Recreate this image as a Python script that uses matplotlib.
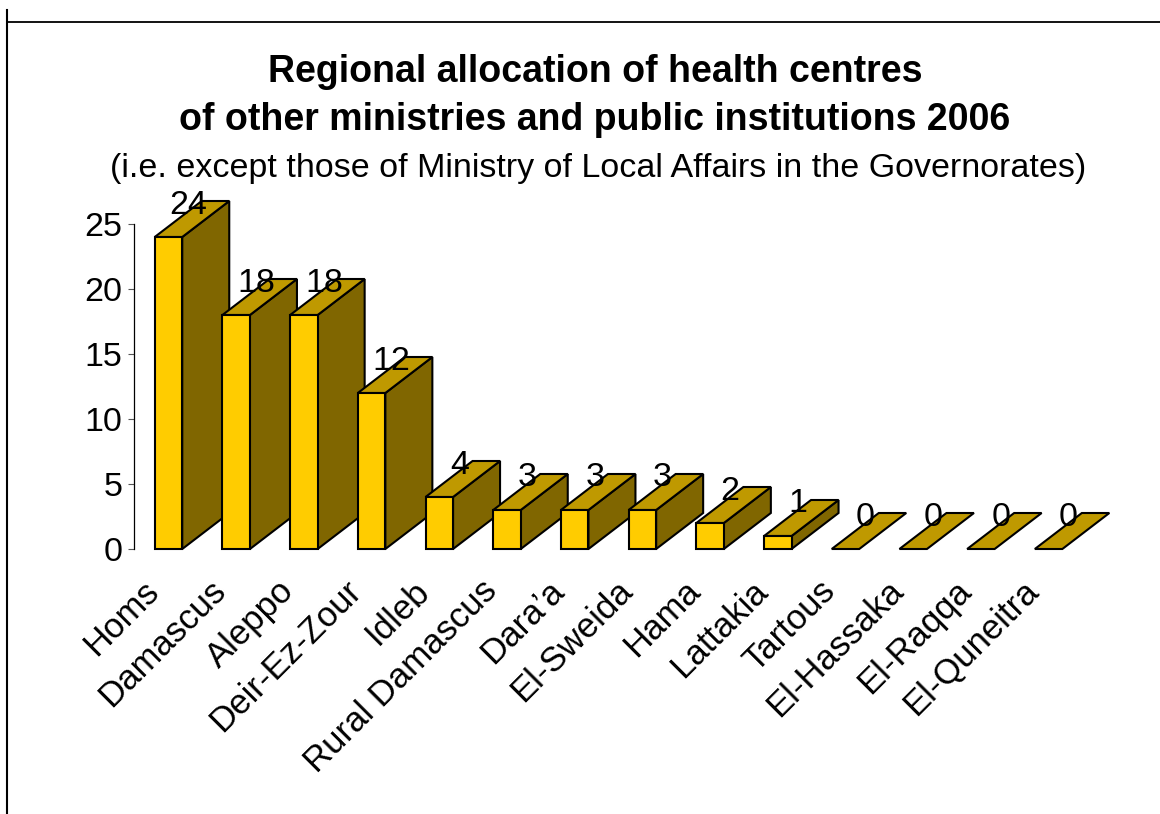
import matplotlib
matplotlib.use("Agg")
import matplotlib.pyplot as plt
from matplotlib.patches import Polygon
from matplotlib.lines import Line2D

plt.rcParams['font.family'] = ['Liberation Sans', 'DejaVu Sans']

# Data
governorates = ["Homs", "Damascus", "Aleppo", "Deir-Ez-Zour", "Idleb",
                "Rural Damascus", "Dara\u2019a", "El-Sweida", "Hama", "Lattakia",
                "Tartous", "El-Hassaka", "El-Raqqa", "El-Quneitra"]
centres = [24, 18, 18, 12, 4, 3, 3, 3, 2, 1, 0, 0, 0, 0]
y_ticks = [0, 5, 10, 15, 20, 25]

title_line1 = "Regional allocation of health centres"
title_line2 = "of other ministries and public institutions 2006"
subtitle = "(i.e. except those of Ministry of Local Affairs in the Governorates)"

W, H, DPI = 1160, 814, 100
fig = plt.figure(figsize=(W / DPI, H / DPI), dpi=DPI)

# Axes placed in pixel units
ax_left, ax_right = 134, 1110
ax_top, ax_bottom = 224, 549
ax = fig.add_axes([ax_left / W, (H - ax_bottom) / H,
                   (ax_right - ax_left) / W, (ax_bottom - ax_top) / H])

px_per_x = 67.7
px_per_y = (ax_bottom - ax_top) / 25.0
first_centre_px = 168.5
x0 = (ax_left - first_centre_px) / px_per_x
ax.set_xlim(x0, x0 + (ax_right - ax_left) / px_per_x)
ax.set_ylim(0, 25)

half_w = 13.75 / px_per_x          # half width of the front face
depth_x = 47 / px_per_x            # oblique depth offset
depth_y = 36 / px_per_y

front_col = "#FFCC00"
side_col = "#806600"
top_col = "#BF9900"
edge = dict(edgecolor="black", linewidth=1.5, joinstyle="miter", clip_on=False)

for i, v in enumerate(centres):
    xl, xr = i - half_w, i + half_w
    z = 2 + i
    if v > 0:
        side = Polygon([(xr, 0), (xr + depth_x, depth_y), (xr + depth_x, v + depth_y), (xr, v)],
                       closed=True, facecolor=side_col, zorder=z, **edge)
        ax.add_patch(side)
    top = Polygon([(xl, v), (xr, v), (xr + depth_x, v + depth_y), (xl + depth_x, v + depth_y)],
                  closed=True, facecolor=top_col, zorder=z, **edge)
    ax.add_patch(top)
    if v > 0:
        front = Polygon([(xl, 0), (xr, 0), (xr, v), (xl, v)],
                        closed=True, facecolor=front_col, zorder=z, **edge)
        ax.add_patch(front)
    ax.text(i + 20 / px_per_x, v + 32 / px_per_y, str(v), ha="center", va="center",
            fontsize=24.5, color="black", zorder=50)

# Axis styling
for s in ["top", "right", "bottom"]:
    ax.spines[s].set_visible(False)
ax.spines["left"].set_linewidth(0.9)
ax.set_yticks(y_ticks)
ax.tick_params(axis="y", length=4.5, width=0.8, color="#555555", pad=4, labelsize=24.5)
ax.set_xticks(range(len(governorates)))
ax.set_xticklabels([])
ax.tick_params(axis="x", length=0)

# Rotated category labels
for i, name in enumerate(governorates):
    ax.annotate(name, xy=(i, 0), xycoords="data",
                xytext=(-27, -25), textcoords="offset pixels",
                rotation=45, rotation_mode="anchor", ha="right", va="top",
                fontsize=25, annotation_clip=False)

# Titles
cx = 595 / W
fig.text(cx, 1 - 82 / H, title_line1, ha="center", va="baseline",
         fontsize=27, fontweight="bold")
fig.text(cx, 1 - 130 / H, title_line2, ha="center", va="baseline",
         fontsize=27, fontweight="bold")
fig.text(598 / W, 1 - 177 / H, subtitle, ha="center", va="baseline", fontsize=24.5)

# Frame lines
fig.add_artist(Line2D([7 / W, 7 / W], [1 - 10 / H, 0], transform=fig.transFigure,
                      color="black", linewidth=1.5))
fig.add_artist(Line2D([7 / W, 1.0], [1 - 22 / H, 1 - 22 / H], transform=fig.transFigure,
                      color="black", linewidth=1.3))

fig.savefig("out.png", dpi=DPI, facecolor="white")
